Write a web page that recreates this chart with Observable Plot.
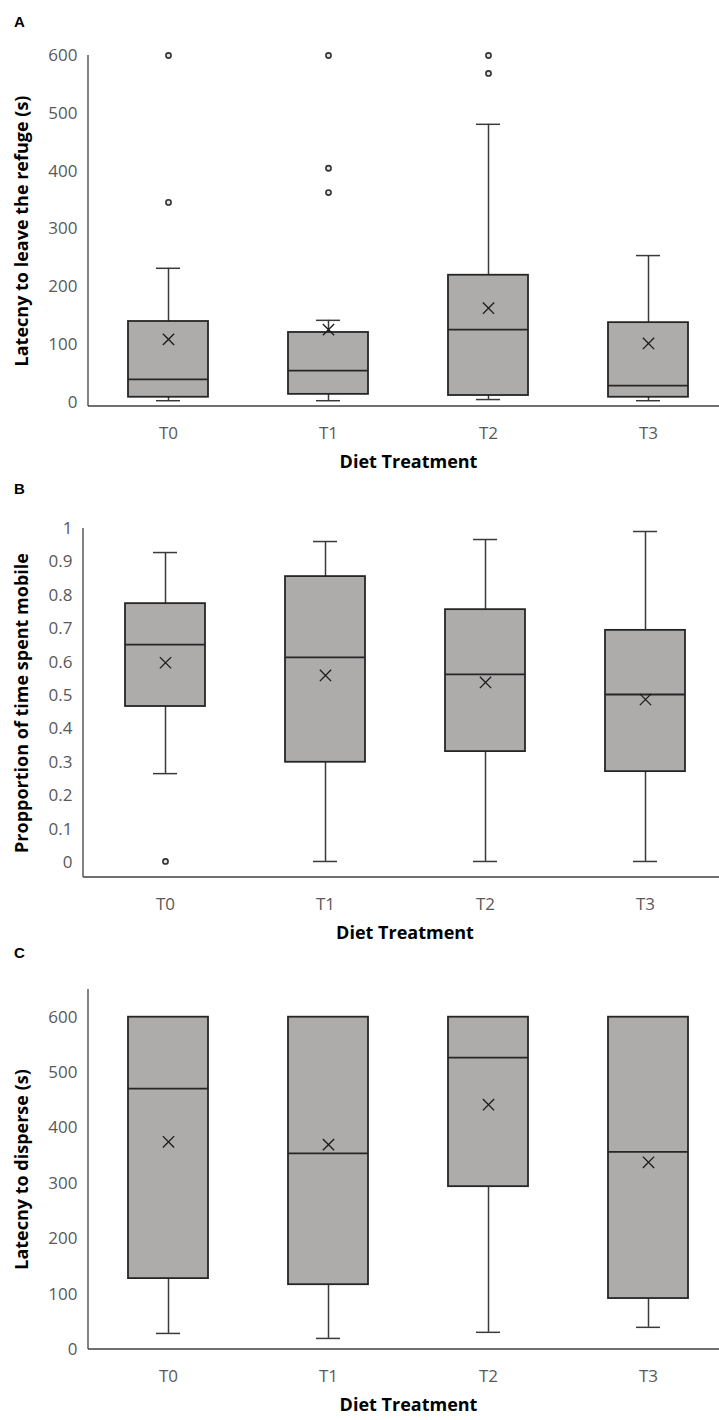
<!DOCTYPE html>
<html><head><meta charset="utf-8">
<script src="https://cdn.jsdelivr.net/npm/d3@7"></script>
<script src="https://cdn.jsdelivr.net/npm/@observablehq/plot@0.6"></script>
<style>
body{margin:0;background:#fff;}
#wrap{position:relative;width:719px;height:1420px;overflow:hidden;background:#fff;}
.panel{position:absolute;left:0;}
.letter{position:absolute;left:14px;font:bold 15px "Liberation Sans",Arial,sans-serif;line-height:15px;color:#000;}
</style></head><body>
<div id="wrap"></div>
<script>
const categories = ["T0", "T1", "T2", "T3"];
const xTitle = "Diet Treatment";

// Panel A: Latency to leave the refuge (s)
const aTitle = "Latecny to leave the refuge (s)";
const aMin    = [3, 3, 5, 3];
const aQ1     = [9, 14, 12, 9];
const aMedian = [40, 55, 126, 29];
const aQ3     = [140, 121, 220, 138];
const aMax    = [232, 142, 481, 254];
const aMean   = [109, 126, 163, 102];
const aOutCat = ["T0", "T0", "T1", "T1", "T1", "T2", "T2"];
const aOutVal = [600, 346, 600, 405, 363, 600, 569];
const aTicks  = [0, 100, 200, 300, 400, 500, 600];

// Panel B: Proportion of time spent mobile
const bTitle = "Propportion of time spent mobile";
const bMin    = [0.266, 0.003, 0.003, 0.003];
const bQ1     = [0.467, 0.300, 0.332, 0.272];
const bMedian = [0.652, 0.614, 0.563, 0.503];
const bQ3     = [0.775, 0.856, 0.757, 0.695];
const bMax    = [0.928, 0.961, 0.967, 0.991];
const bMean   = [0.598, 0.560, 0.539, 0.488];
const bOutCat = ["T0"];
const bOutVal = [0.003];
const bTicks  = [0, 0.1, 0.2, 0.3, 0.4, 0.5, 0.6, 0.7, 0.8, 0.9, 1];

// Panel C: Latency to disperse (s)
const cTitle = "Latecny to disperse (s)";
const cMin    = [29, 20, 31, 40];
const cQ1     = [128, 117, 294, 92];
const cMedian = [471, 354, 527, 357];
const cQ3     = [600, 600, 600, 600];
const cMax    = [600, 600, 600, 600];
const cMean   = [375, 370, 442, 338];
const cOutCat = [];
const cOutVal = [];
const cTicks  = [0, 100, 200, 300, 400, 500, 600];

const FONT = '"Open Sans", sans-serif';
const BOX_FILL = "#aeabab";
const DARK = "#262626";
const AXIS = "#404040";

// custom mark: left and bottom axis lines along the frame edges
function axisLines(index, scales, values, dim) {
  const ns = "http://www.w3.org/2000/svg";
  const g = document.createElementNS(ns, "g");
  const x0 = dim.marginLeft, x1 = dim.width - dim.marginRight;
  const y0 = dim.marginTop, y1 = dim.height - dim.marginBottom;
  const mk = (a, b, c, d) => {
    const l = document.createElementNS(ns, "line");
    l.setAttribute("x1", a); l.setAttribute("y1", b);
    l.setAttribute("x2", c); l.setAttribute("y2", d);
    l.setAttribute("stroke", AXIS); l.setAttribute("stroke-width", 1.3);
    g.appendChild(l);
  };
  mk(x0, y0, x0, y1);
  mk(x0, y1, x1, y1);
  return g;
}

function makePanel(p) {
  const rows = categories.map((c, i) => ({
    cat: c, min: p.min[i], q1: p.q1[i], median: p.median[i],
    q3: p.q3[i], max: p.max[i], mean: p.mean[i]
  }));
  const outs = p.outCat.map((c, i) => ({cat: c, v: p.outVal[i]}));
  const wh = {stroke: "#3a3a3a", strokeWidth: 1.5};
  return Plot.plot({
    width: 719,
    height: p.height,
    marginTop: p.marginTop,
    marginBottom: p.marginBottom,
    marginLeft: p.marginLeft,
    marginRight: p.marginRight,
    style: {fontFamily: FONT, fontSize: "17px", background: "#fff", color: AXIS, overflow: "visible"},
    x: {domain: categories, padding: 0, axis: null},
    y: {domain: p.yDomain, axis: null},
    marks: [
      Plot.ruleX(rows, {x: "cat", y1: "q3", y2: "max", ...wh}),
      Plot.ruleX(rows, {x: "cat", y1: "min", y2: "q1", ...wh}),
      Plot.tickY(rows, {x: "cat", y: "max", insetLeft: p.capInset, insetRight: p.capInset, ...wh}),
      Plot.tickY(rows, {x: "cat", y: "min", insetLeft: p.capInset, insetRight: p.capInset, ...wh}),
      Plot.barY(rows, {x: "cat", y1: "q1", y2: "q3", insetLeft: p.boxInset, insetRight: p.boxInset,
        fill: BOX_FILL, stroke: DARK, strokeWidth: 1.8}),
      Plot.tickY(rows, {x: "cat", y: "median", insetLeft: p.boxInset, insetRight: p.boxInset,
        stroke: DARK, strokeWidth: 1.8}),
      Plot.dot(rows, {x: "cat", y: "mean", symbol: "times", r: 5.2, stroke: "#1a1a1a", strokeWidth: 1.3}),
      Plot.dot(outs, {x: "cat", y: "v", r: 2.6, stroke: "#333", fill: "#e6e6e6", strokeWidth: 1.6}),
      axisLines,
      Plot.axisX({tickSize: 0, tickPadding: 20, label: null, fill: "#595959"}),
      Plot.axisY({ticks: p.yTicks, tickSize: 0, tickPadding: 11, label: null,
        tickFormat: d => String(d), fill: "#595959"}),
      Plot.text([p.yTitle], {frameAnchor: "left", textAnchor: "middle", dx: -(p.marginLeft - 22), rotate: -90,
        fontWeight: "bold", fontSize: 18, fill: "#000", fontFamily: FONT}),
      Plot.text([xTitle], {frameAnchor: "bottom", textAnchor: "middle", dy: 61, fontWeight: "bold", fontSize: 18,
        fill: "#000", fontFamily: FONT})
    ]
  });
}

const wrap = document.getElementById("wrap");
function addPanel(top, letter, letterTop, cfg) {
  const div = document.createElement("div");
  div.className = "panel";
  div.style.top = top + "px";
  div.appendChild(makePanel(cfg));
  wrap.appendChild(div);
  const l = document.createElement("div");
  l.className = "letter";
  l.style.top = letterTop + "px";
  l.textContent = letter;
  wrap.appendChild(l);
}

addPanel(0, "A", 14, {
  min: aMin, q1: aQ1, median: aMedian, q3: aQ3, max: aMax, mean: aMean,
  outCat: aOutCat, outVal: aOutVal, yTicks: aTicks, yTitle: aTitle,
  yDomain: [-7, 600], height: 480, marginTop: 55, marginBottom: 74,
  marginLeft: 88, marginRight: -9, boxInset: 40, capInset: 68
});
addPanel(480, "B", 481, {
  min: bMin, q1: bQ1, median: bMedian, q3: bQ3, max: bMax, mean: bMean,
  outCat: bOutCat, outVal: bOutVal, yTicks: bTicks, yTitle: bTitle,
  yDomain: [-0.045, 1], height: 468, marginTop: 48, marginBottom: 71,
  marginLeft: 83, marginRight: -7, boxInset: 40, capInset: 68
});
addPanel(948, "C", 945, {
  min: cMin, q1: cQ1, median: cMedian, q3: cQ3, max: cMax, mean: cMean,
  outCat: cOutCat, outVal: cOutVal, yTicks: cTicks, yTitle: cTitle,
  yDomain: [0, 650], height: 472, marginTop: 41, marginBottom: 71,
  marginLeft: 88, marginRight: -9, boxInset: 40, capInset: 68
});
</script>
</body></html>
